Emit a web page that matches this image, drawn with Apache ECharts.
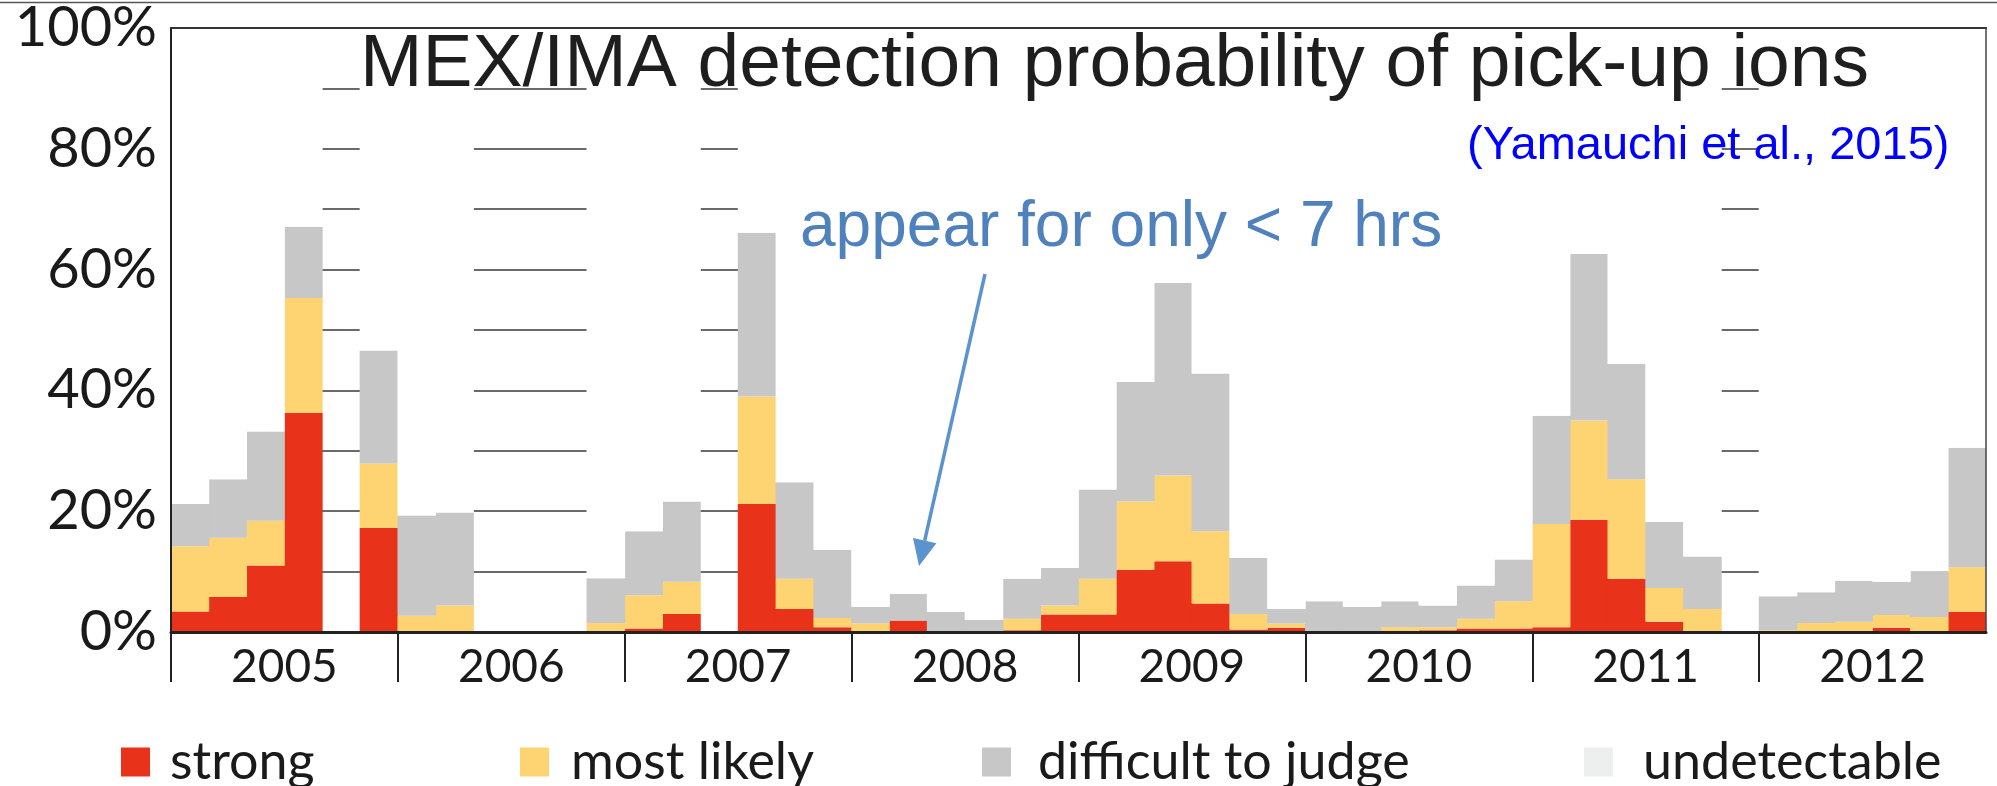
<!DOCTYPE html>
<html>
<head>
<meta charset="utf-8">
<title>MEX/IMA detection probability of pick-up ions</title>
<script src="https://cdn.jsdelivr.net/npm/echarts@6/dist/echarts.min.js"></script>
<style>
  html, body { margin: 0; padding: 0; background: #fff; }
  #chart { width: 1997px; height: 786px; }
</style>
</head>
<body>
<div id="chart"></div>
<script>
// 2-month bins, six per year
var years = ['2005', '2006', '2007', '2008', '2009', '2010', '2011', '2012'];
var periods = ['Jan-Feb', 'Mar-Apr', 'May-Jun', 'Jul-Aug', 'Sep-Oct', 'Nov-Dec'];
var bins = [];
years.forEach(function (y) {
  periods.forEach(function (p) { bins.push(y + ' ' + p); });
});

// % of orbits per bin, null = no data
var strong = [
  3.4, 5.8, 11.0, 36.3, null, 17.2,
  0, 0, null, null, null, 0.2,
  0.6, 3.0, null, 21.2, 3.8, 0.8,
  0.1, 1.9, 0, 0, 0.3, 2.9,
  2.9, 10.3, 11.7, 4.7, 0.4, 0.7,
  0, 0, 0.1, 0.3, 0.6, 0.6,
  0.8, 18.6, 8.8, 1.7, 0, null,
  0, 0, 0, 0.7, 0, 3.3
];
var mostLikely = [
  10.8, 9.8, 7.4, 19.0, null, 10.7,
  2.7, 4.4, null, null, null, 1.3,
  5.5, 5.3, null, 17.8, 5.0, 1.5,
  1.3, 0, 0, 0.1, 1.9, 1.5,
  5.9, 11.3, 14.2, 12.0, 2.6, 0.7,
  0, 0, 0.7, 0.5, 1.6, 4.5,
  17.1, 16.4, 16.5, 5.6, 3.8, null,
  0.3, 1.5, 1.7, 2.1, 2.5, 7.4
];
var difficult = [
  7.0, 9.7, 14.8, 11.8, null, 18.7,
  16.6, 15.4, null, null, null, 7.4,
  10.6, 13.3, null, 27.1, 16.0, 11.3,
  2.8, 4.4, 3.3, 1.9, 6.6, 6.2,
  14.8, 19.8, 31.9, 26.1, 9.3, 2.4,
  5.1, 4.2, 4.3, 3.6, 5.5, 6.9,
  17.9, 27.6, 19.1, 10.9, 8.7, null,
  5.6, 5.1, 6.8, 5.5, 7.5, 19.8
];
var undetectable = [
  78.8, 74.7, 66.8, 32.9, null, 53.4,
  80.7, 80.2, null, null, null, 91.1,
  83.3, 78.4, null, 33.9, 75.2, 86.4,
  95.8, 93.7, 96.7, 98.0, 91.2, 89.4,
  76.4, 58.6, 42.2, 57.2, 87.7, 96.2,
  94.9, 95.8, 94.9, 95.6, 92.3, 88.0,
  64.2, 37.4, 55.6, 81.8, 87.5, null,
  94.1, 93.4, 91.5, 91.7, 90.0, 69.5
];
var yLabels = [0, 20, 40, 60, 80, 100];
// year separators and label positions, in bin units
var yearTicks = [0, 6, 12, 18, 24, 30, 36, 42];
var yearMids = [3, 9, 15, 21, 27, 33, 39, 45];

var chart = echarts.init(document.getElementById('chart'));

function barSeries(name, data, color) {
  return {
    name: name,
    type: 'bar',
    stack: 'prob',
    data: data,
    xAxisIndex: 0,
    yAxisIndex: 0,
    barWidth: 38.6, // a hair wider than the bin so no seams show between bars
    itemStyle: { color: color },
    emphasis: { disabled: true }
  };
}

function legendItem(name, left, gap, iconColor) {
  var item = { name: name, icon: 'rect' };
  if (iconColor) item.itemStyle = { color: iconColor };
  return {
    data: [item],
    left: left,
    top: 736,
    padding: 0,
    itemWidth: 29,
    itemHeight: 29,
    selectedMode: false,
    textStyle: { fontFamily: 'Lato', fontSize: 52, color: '#1a1a1a', padding: [0, 0, 0, gap] }
  };
}

var frameLine = function (color, width) {
  return { show: true, onZero: false, lineStyle: { color: color, width: width } };
};

var option = {
  animation: false,
  backgroundColor: '#fff',
  title: [
    {
      text: 'MEX/IMA detection probability of pick-up ions',
      left: 360, top: 28, padding: 0,
      textStyle: { fontFamily: 'Liberation Sans', fontSize: 75, fontWeight: 'normal', color: '#1e1e1e' }
    },
    {
      text: '(Yamauchi et al., 2015)',
      left: 1467, top: 123, padding: 0,
      textStyle: { fontFamily: 'Liberation Sans', fontSize: 47, fontWeight: 'normal', color: '#0000ff' }
    },
    {
      text: 'appear for only < 7 hrs',
      left: 800, top: 196, padding: 0,
      textStyle: { fontFamily: 'Liberation Sans', fontSize: 64, fontWeight: 'normal', color: '#4f81bd' }
    }
  ],
  legend: [
    legendItem('strong', 121, 15),
    legendItem('most likely', 520, 17),
    legendItem('difficult to judge', 982, 22),
    legendItem('undetectable', 1584, 25, '#edefee')
  ],
  grid: { left: 171, right: 11, top: 28, bottom: 154 },
  xAxis: [
    {
      type: 'category', data: bins, position: 'bottom', z: 10,
      axisLine: frameLine('#222', 3),
      axisTick: { show: false },
      axisLabel: { show: false }
    },
    {
      type: 'value', min: 0, max: bins.length, interval: 6, position: 'bottom', z: 10,
      axisLine: { show: false },
      splitLine: { show: false },
      axisTick: { show: true, length: 50, customValues: yearTicks, lineStyle: { color: '#222', width: 2 } },
      axisLabel: {
        margin: 12, fontFamily: 'Lato', fontSize: 46, color: '#1a1a1a',
        customValues: yearMids,
        formatter: function (v) { return years[yearMids.indexOf(v)] || ''; }
      }
    },
    {
      type: 'category', data: years, position: 'top', z: 10,
      axisLine: frameLine('#333', 2),
      axisTick: { show: false },
      axisLabel: { show: false }
    }
  ],
  yAxis: [
    {
      type: 'value', min: 0, max: 100, interval: 10, position: 'left',
      axisLine: { show: false },
      axisTick: { show: false },
      axisLabel: {
        margin: 14, fontFamily: 'Lato', fontSize: 56, color: '#1a1a1a',
        formatter: function (v) { return yLabels.indexOf(v) >= 0 ? v + '%' : ''; }
      },
      splitLine: { show: true, lineStyle: { color: '#6a6a6a', width: 2 } }
    },
    {
      type: 'value', min: 0, max: 100, position: 'left', z: 10,
      axisLine: frameLine('#222', 2),
      axisTick: { show: false }, axisLabel: { show: false }, splitLine: { show: false }
    },
    {
      type: 'value', min: 0, max: 100, position: 'right', z: 10,
      axisLine: frameLine('#444', 1.5),
      axisTick: { show: false }, axisLabel: { show: false }, splitLine: { show: false }
    }
  ],
  graphic: [
    { type: 'line', shape: { x1: 0, y1: 2.5, x2: 1997, y2: 2.5 }, style: { stroke: '#555', lineWidth: 1.5 } },
    // arrow to the 2008 bins
    { type: 'line', z: 20, shape: { x1: 985, y1: 274, x2: 924.7, y2: 540.6 }, style: { stroke: '#5b93cf', lineWidth: 3.5 } },
    { type: 'polygon', z: 20, shape: { points: [[919, 566], [936.4, 543.3], [913, 538]] }, style: { fill: '#5b93cf' } }
  ],
  series: [
    barSeries('strong', strong, '#e8321a'),
    barSeries('most likely', mostLikely, '#fed372'),
    barSeries('difficult to judge', difficult, '#c7c7c7'),
    barSeries('undetectable', undetectable, '#ffffff')
  ]
};

chart.setOption(option);
</script>
</body>
</html>
